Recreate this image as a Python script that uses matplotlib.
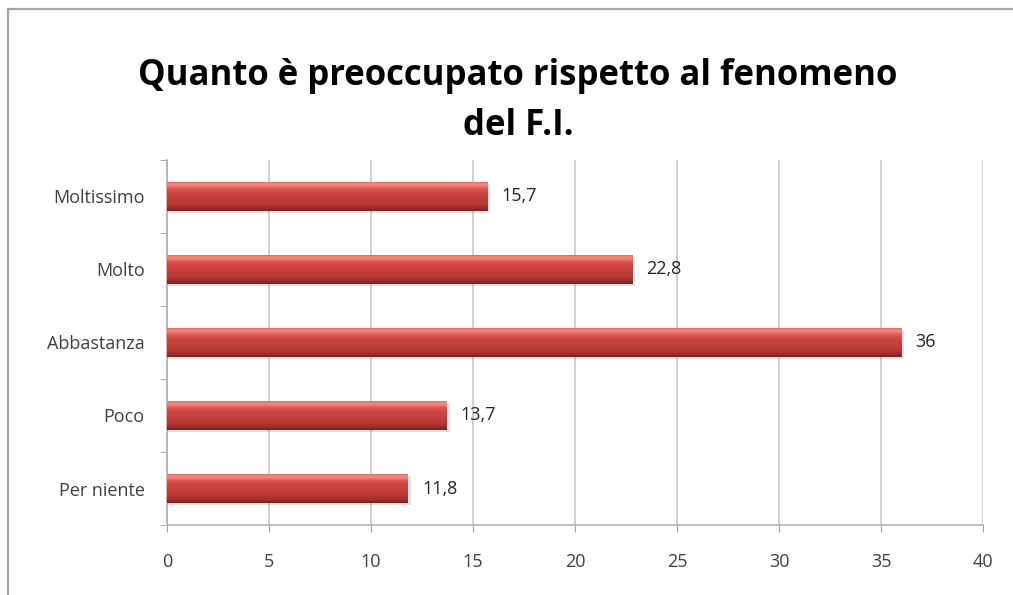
import matplotlib
matplotlib.use("Agg")
import matplotlib.pyplot as plt
import numpy as np
from matplotlib.colors import LinearSegmentedColormap
from matplotlib.lines import Line2D

categories = ["Per niente", "Poco", "Abbastanza", "Molto", "Moltissimo"]
values = [11.8, 13.7, 36, 22.8, 15.7]
value_labels = ["11,8", "13,7", "36", "22,8", "15,7"]
xticks = [0, 5, 10, 15, 20, 25, 30, 35, 40]
title = "Quanto è preoccupato rispetto al fenomeno\ndel F.I."

W, H = 1013, 595
fig = plt.figure(figsize=(W / 100, H / 100), dpi=100)
fig.patch.set_facecolor("white")

# outer frame (top and left edges)
fig.add_artist(Line2D([8 / W, 1], [1 - 9 / H, 1 - 9 / H], color="#a6a6a6", lw=1.6))
fig.add_artist(Line2D([8 / W, 8 / W], [0, 1 - 9 / H], color="#a6a6a6", lw=1.6))

left, right = 167 / W, 983 / W
bottom, top = 1 - 525 / H, 1 - 160 / H
ax = fig.add_axes([left, bottom, right - left, top - bottom])

n = len(categories)
ypos = np.arange(n)
bar_h = 0.4

cmap = LinearSegmentedColormap.from_list(
    "bar3d",
    [(0.0, "#7a1f1d"), (0.08, "#982d2a"), (0.25, "#bb3a36"), (0.6, "#cb4440"),
     (0.75, "#dc5853"), (0.86, "#f3847e"), (0.94, "#f08079"), (1.0, "#c84c47")],
)
grad = np.linspace(0, 1, 64).reshape(-1, 1)

bars = ax.barh(ypos, values, height=bar_h, color="#c0392b", edgecolor="none", zorder=3)
for b in bars:
    x0, y0 = b.get_x(), b.get_y()
    w, h = b.get_width(), b.get_height()
    # subtle shadow
    ax.add_patch(plt.Rectangle((x0, y0 - 0.03), w + 0.15, h, color="#000000", alpha=0.12, zorder=2, lw=0))
    im = ax.imshow(grad, cmap=cmap, aspect="auto", extent=(x0, x0 + w, y0, y0 + h),
                   origin="lower", zorder=3.5, interpolation="bilinear")
    im.set_clip_path(b)

for y, v, lab in zip(ypos, values, value_labels):
    ax.text(v + 0.7, y, lab, va="center", ha="left", fontsize=13, color="#262626",
            family="Open Sans")

ax.set_xlim(0, 40)
ax.set_ylim(-0.5, n - 0.5)
ax.set_xticks(xticks)
ax.set_xticklabels([str(t) for t in xticks])
ax.set_yticks(ypos)
ax.set_yticklabels(categories)
ax.set_yticks(np.arange(-0.5, n, 1.0), minor=True)
ax.tick_params(axis="y", which="major", length=0, pad=16, labelsize=13, labelcolor="#404040")
ax.tick_params(axis="y", which="minor", length=5, color="#a0a0a0", direction="out")
ax.tick_params(axis="x", which="major", length=5, color="#a0a0a0", direction="out", pad=15,
               labelsize=13, labelcolor="#404040")
for lab in ax.get_xticklabels() + ax.get_yticklabels():
    lab.set_family("Open Sans")

ax.grid(axis="x", color="#c8c8c8", lw=1.2, zorder=0)
ax.set_axisbelow(True)
for s in ["top", "right"]:
    ax.spines[s].set_visible(False)
for s in ["left", "bottom"]:
    ax.spines[s].set_color("#b0b0b0")
    ax.spines[s].set_linewidth(1.2)

fig.text(518 / W, 1 - 101 / H, title, ha="center", va="center", fontsize=25,
         fontweight="bold", family="Open Sans", color="#000000", linespacing=1.5)

fig.savefig("out.png", dpi=100)
